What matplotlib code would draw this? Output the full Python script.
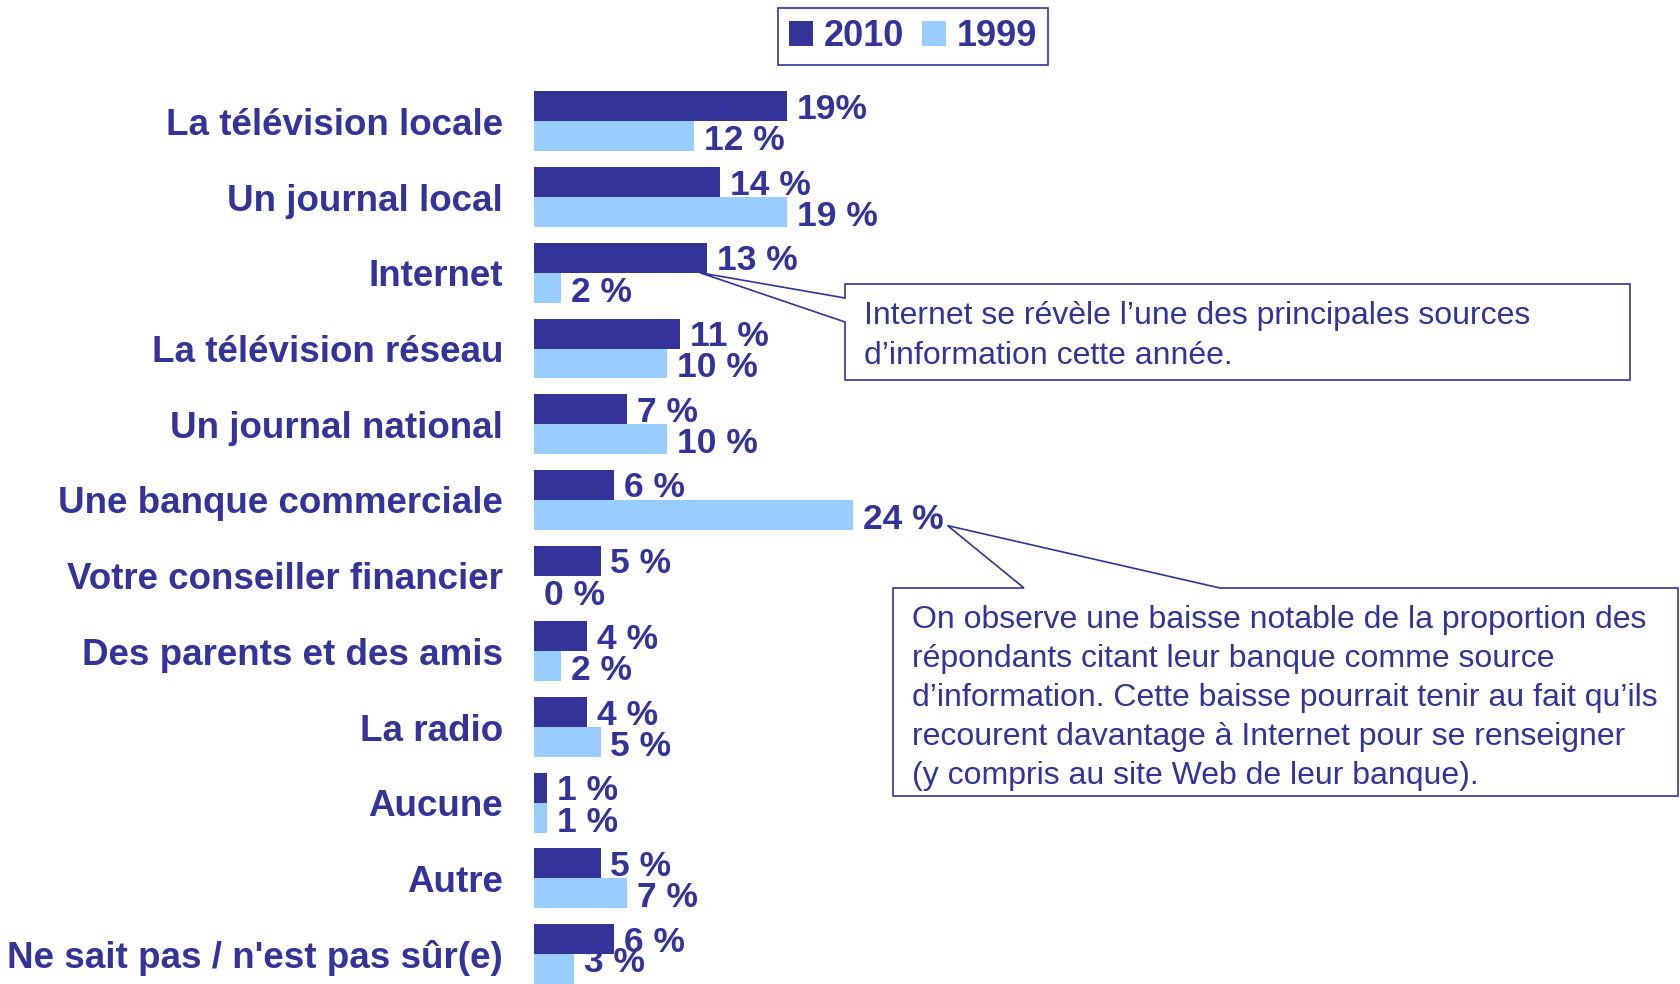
import matplotlib
matplotlib.use("Agg")
import matplotlib.pyplot as plt
from matplotlib.patches import Polygon, Patch
import numpy as np

categories = ["La télévision locale", "Un journal local", "Internet", "La télévision réseau",
              "Un journal national", "Une banque commerciale", "Votre conseiller financier",
              "Des parents et des amis", "La radio", "Aucune", "Autre",
              "Ne sait pas / n'est pas sûr(e)"]
values_2010 = [19, 14, 13, 11, 7, 6, 5, 4, 4, 1, 5, 6]
values_1999 = [12, 19, 2, 10, 10, 24, 0, 2, 5, 1, 7, 3]
labels_2010 = ["19%", "14 %", "13 %", "11 %", "7 %", "6 %", "5 %", "4 %", "4 %", "1 %", "5 %", "6 %"]
labels_1999 = ["12 %", "19 %", "2 %", "10 %", "10 %", "24 %", "0 %", "2 %", "5 %", "1 %", "7 %", "3 %"]
series_names = ["2010", "1999"]

note_internet = "Internet se révèle l’une des principales sources\nd’information cette année."
note_banque = ("On observe une baisse notable de la proportion des\n"
               "répondants citant leur banque comme source\n"
               "d’information. Cette baisse pourrait tenir au fait qu’ils\n"
               "recourent davantage à Internet pour se renseigner\n"
               "(y compris au site Web de leur banque).")

NAVY = "#333399"
LIGHT = "#99CCFF"
FONT = "Liberation Sans"

W, H = 1681, 984
fig = plt.figure(figsize=(W / 100, H / 100), dpi=100)

# axes geometry (pixels)
x0 = 534
px_per_pct = 13.3
g0, g_step = 121.4, 75.7
ax = fig.add_axes([x0 / W, 0, 1 - x0 / W, 1])
ax.set_xlim(0, (W - x0) / px_per_pct)
ytop = -g0 / g_step
ybot = 11 + (H - (g0 + 11 * g_step)) / g_step
ax.set_ylim(ybot, ytop)

y = np.arange(len(categories))
bh = 0.395
ax.barh(y - bh / 2, values_2010, height=bh, color=NAVY, align="center")
ax.barh(y + bh / 2, values_1999, height=bh, color=LIGHT, align="center")

for s in ax.spines.values():
    s.set_visible(False)
ax.set_xticks([])
ax.set_yticks(y)
ax.set_yticklabels(categories, fontsize=26.5, fontweight="bold", color=NAVY, family=FONT)
ax.tick_params(axis="y", length=0, pad=22.3)

off = 10 / px_per_pct
for i in range(len(categories)):
    ax.text(values_2010[i] + off, y[i] - bh / 2 + 0.04, labels_2010[i], ha="left", va="center",
            fontsize=25.5, fontweight="bold", color=NAVY, family=FONT)
    # keep the lowest label inside the figure (as in the original slide)
    ly = min(y[i] + bh / 2 + 0.06, ybot - 0.28)
    ax.text(values_1999[i] + off, ly, labels_1999[i], ha="left", va="center",
            fontsize=25.5, fontweight="bold", color=NAVY, family=FONT)

# legend
handles = [Patch(facecolor=NAVY, edgecolor="none"), Patch(facecolor=LIGHT, edgecolor="none")]
leg = fig.legend(handles, series_names, loc="upper left", bbox_to_anchor=(778 / W, 1 - 8 / H),
                 ncol=2, frameon=True, fancybox=False, edgecolor=NAVY, framealpha=1,
                 prop={"family": FONT, "weight": "bold", "size": 26},
                 handlelength=0.68, handleheight=0.68, handletextpad=0.28,
                 columnspacing=0.5, borderpad=0.3, borderaxespad=0)
leg.get_frame().set_linewidth(1.2)
for t in leg.get_texts():
    t.set_color(NAVY)

fig.canvas.draw()

def px(xp, yp):
    return (xp / W, 1 - yp / H)

def data_to_px(xd, yd):
    d = ax.transData.transform((xd, yd))
    return d[0], H - d[1]

# callout 1 (Internet)
ax_i = categories.index("Internet")
apx, apy = data_to_px(values_2010[ax_i] - 0.5, y[ax_i])
bx0, by0, bx1, by1 = 845, 284, 1630, 380
pts = [(bx0, by0), (bx1, by0), (bx1, by1), (bx0, by1), (bx0, 322), (apx, apy), (bx0, 298)]
fig.patches.append(Polygon([px(*p) for p in pts], closed=True, transform=fig.transFigure,
                           facecolor="white", edgecolor=NAVY, lw=1.2))
fig.text(*px(864, 336), note_internet, ha="left", va="center", fontsize=23, color=NAVY,
         family=FONT, linespacing=1.40)

# callout 2 (banque)
b_i = categories.index("Une banque commerciale")
apx2, apy2 = data_to_px(values_1999[b_i] + 7.1, y[b_i] + 0.34)
bx0, by0, bx1, by1 = 893, 588, 1678, 796
pts2 = [(bx0, by0), (1024, by0), (apx2, apy2), (1220, by0), (bx1, by0), (bx1, by1), (bx0, by1)]
fig.patches.append(Polygon([px(*p) for p in pts2], closed=True, transform=fig.transFigure,
                           facecolor="white", edgecolor=NAVY, lw=1.2))
fig.text(*px(912, 698), note_banque, ha="left", va="center", fontsize=23, color=NAVY,
         family=FONT, linespacing=1.40)

fig.savefig("out.png", dpi=100)
